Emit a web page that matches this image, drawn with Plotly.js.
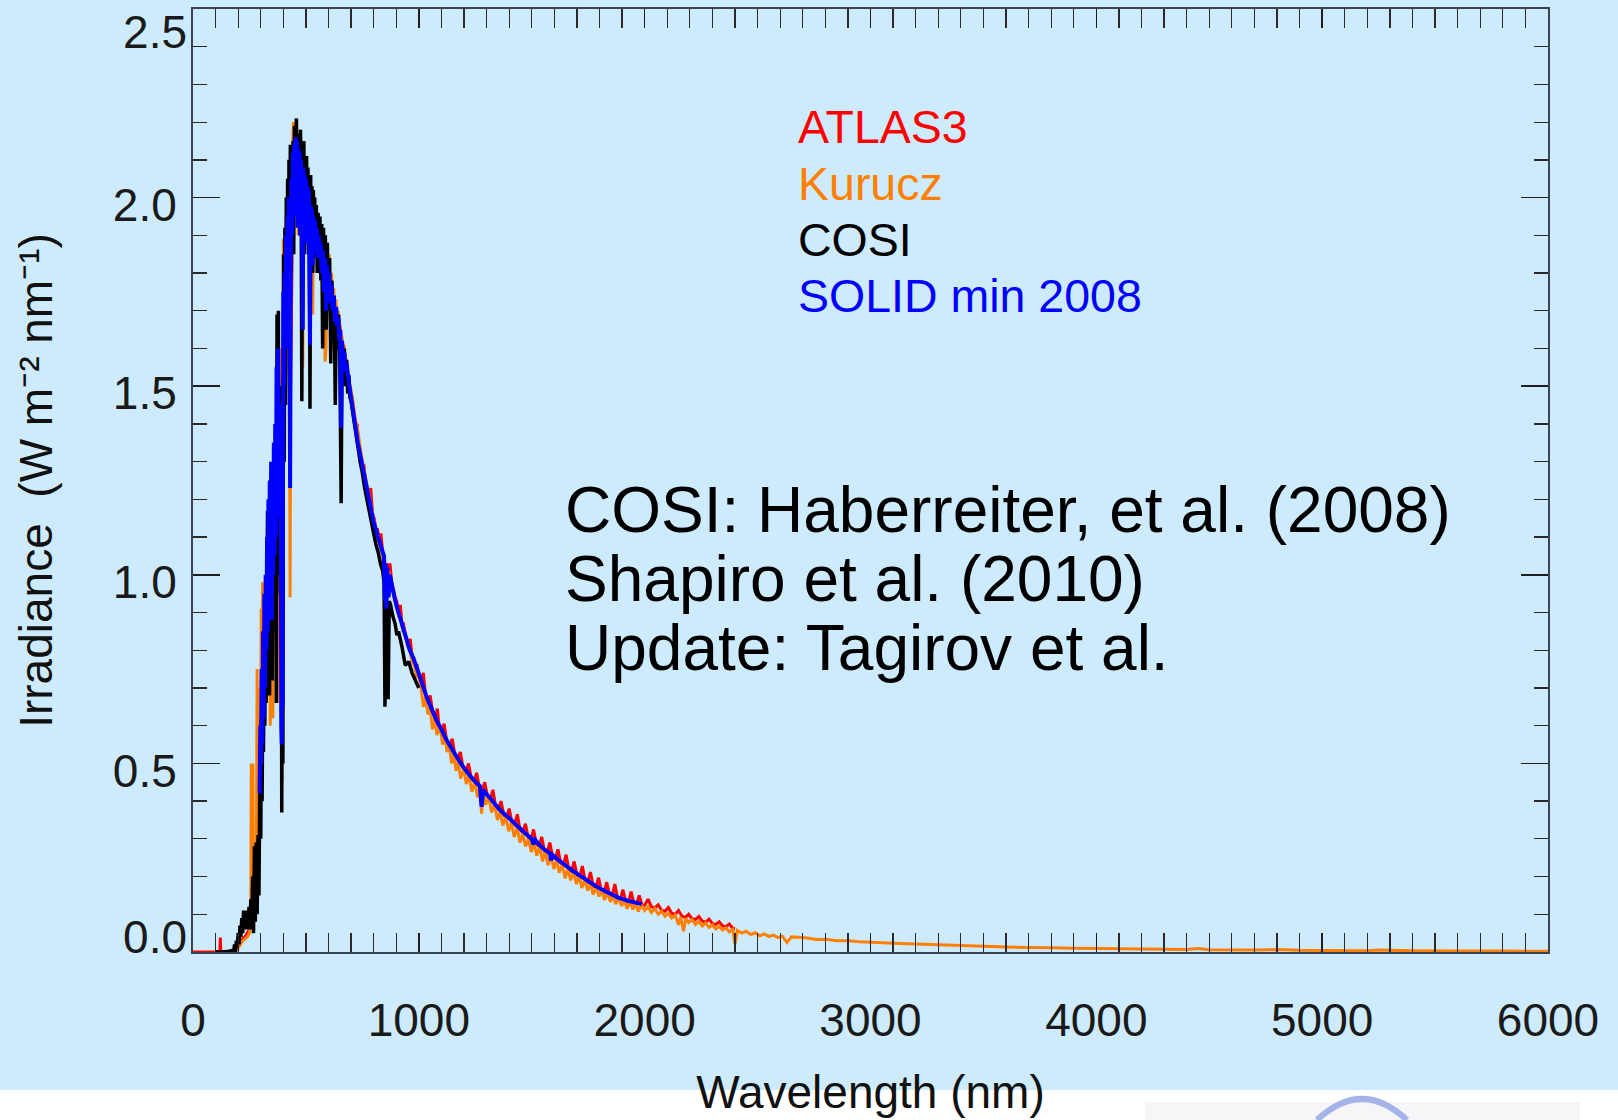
<!DOCTYPE html>
<html>
<head>
<meta charset="utf-8">
<script src="https://cdn.plot.ly/plotly-3.0.1.min.js"></script>
<style>
  html, body { margin: 0; padding: 0; background: #ffffff; }
  #chart { width: 1618px; height: 1120px; }
</style>
</head>
<body>
<div id="chart"></div>
<script>
// ---------------- data: [wavelength nm, irradiance W m-2 nm-1] ----------------
const atlas3Points = [
  [0,0],[20,0],[40,0],[60,0],[80,0],[100,0],[115,0.001],[119,0.004],[121,0.038],[123,0.003],
  [130,0.001],[150,0.001],[170,0.002],[190,0.006],[210,0.025],[220,0.035],[230,0.04],[240,0.05],[250,0.06],[260,0.12],
  [270,0.22],[280,0.15],[290,0.45],[300,0.50],[310,0.70],[320,0.80],[330,0.95],[340,0.95],[350,1.00],[360,1.05],
  [370,1.15],[380,1.15],[390,1.10],[393,0.45],[400,1.55],[410,1.70],[420,1.75],[430,1.40],[440,1.90],[450,2.05],
  [460,2.05],[470,2.02],[480,2.00],[486,1.70],[490,2.00],[500,1.95],[510,1.90],[520,1.85],[530,1.87],[540,1.90],
  [550,1.88],[560,1.86],[570,1.84],[580,1.82],[590,1.78],[600,1.78],[610,1.76],[620,1.73],[630,1.71],[640,1.69],
  [650,1.66],[660,1.62],[670,1.59],[680,1.56],[690,1.51],[700,1.47],[705,1.47],[712,1.43],[720,1.39],[727,1.40],
  [735,1.33],[742,1.32],[750,1.29],[757,1.29],[765,1.24],[772,1.23],[780,1.20],[787,1.23],[795,1.16],[802,1.15],
  [810,1.12],[817,1.12],[825,1.09],[832,1.11],[840,1.06],[847,1.05],[854,1.00],[858,1.03],[865,1.00],[872,1.03],
  [880,0.98],[888,0.96],[895,0.94],[902,0.93],[910,0.90],[918,0.92],[925,0.87],[932,0.87],[940,0.84],[947,0.83],
  [955,0.81],[962,0.83],[970,0.785],[977,0.78],[985,0.76],[992,0.76],[1000,0.73],[1010,0.716],[1020,0.74],[1030,0.68],
  [1042,0.665],[1050,0.68],[1062,0.634],[1072,0.62],[1082,0.645],[1090,0.597],[1100,0.586],[1112,0.605],[1124,0.557],[1136,0.545],
  [1148,0.565],[1160,0.521],[1172,0.51],[1184,0.53],[1196,0.487],[1208,0.478],[1220,0.50],[1232,0.461],[1244,0.452],[1256,0.475],
  [1268,0.436],[1280,0.428],[1292,0.45],[1304,0.412],[1316,0.404],[1328,0.43],[1340,0.386],[1352,0.378],[1364,0.40],[1376,0.363],
  [1388,0.357],[1400,0.38],[1412,0.344],[1424,0.338],[1436,0.365],[1448,0.324],[1460,0.317],[1472,0.34],[1484,0.304],[1496,0.298],
  [1508,0.325],[1520,0.286],[1532,0.28],[1544,0.305],[1556,0.268],[1568,0.262],[1580,0.29],[1592,0.253],[1604,0.247],[1616,0.272],
  [1628,0.236],[1640,0.23],[1652,0.258],[1664,0.219],[1676,0.214],[1688,0.24],[1700,0.204],[1712,0.199],[1724,0.228],[1736,0.19],
  [1748,0.185],[1760,0.212],[1772,0.175],[1784,0.171],[1796,0.197],[1808,0.163],[1820,0.159],[1832,0.185],[1844,0.153],[1856,0.148],
  [1868,0.18],[1880,0.142],[1892,0.139],[1904,0.165],[1916,0.134],[1928,0.132],[1940,0.16],[1952,0.129],[1964,0.127],[1976,0.15],
  [1988,0.124],[2000,0.124],[2015,0.14],[2030,0.12],[2045,0.117],[2060,0.125],[2075,0.11],[2090,0.108],[2105,0.118],[2120,0.102],
  [2135,0.10],[2150,0.11],[2165,0.095],[2180,0.092],[2195,0.10],[2210,0.088],[2225,0.086],[2240,0.094],[2255,0.082],[2270,0.079],
  [2285,0.087],[2300,0.075],[2315,0.073],[2330,0.08],[2345,0.069],[2360,0.067],[2375,0.074],[2390,0.063],[2400,0.062]
];

const kuruczPoints = [
  [150,0],[170,0],[190,0.005],[200,0.01],[210,0.02],[220,0.03],[230,0.035],[240,0.04],[250,0.05],[256,0.08],
  [258,0.50],[261,0.32],[265,0.50],[268,0.20],[272,0.25],[276,0.15],[280,0.12],[284,0.75],[287,0.40],[290,0.70],
  [293,0.50],[296,0.65],[299,0.45],[302,0.91],[305,0.60],[308,0.98],[311,0.70],[314,0.90],[317,0.75],[320,1.00],
  [323,0.80],[326,1.05],[329,0.85],[332,1.10],[335,0.90],[338,1.10],[342,0.60],[345,1.15],[348,0.80],[351,1.18],
  [354,0.62],[357,1.20],[360,0.95],[363,1.25],[366,0.90],[369,1.30],[372,1.10],[375,0.66],[378,1.45],[381,1.20],
  [384,1.55],[387,1.10],[390,1.60],[393,0.45],[396,1.40],[398,0.55],[400,1.89],[403,1.60],[406,1.85],[409,1.55],
  [412,1.95],[415,1.75],[418,2.00],[421,1.80],[424,2.05],[427,1.50],[430,0.94],[433,1.80],[436,2.10],[439,1.95],
  [442,2.15],[445,2.20],[448,2.05],[451,2.17],[454,2.00],[457,2.14],[460,1.95],[463,2.12],[466,1.90],[469,2.15],
  [472,1.95],[475,2.18],[478,2.05],[482,1.70],[486,1.55],[490,2.10],[494,1.95],[498,2.08],[502,1.90],[506,2.06],
  [510,1.95],[514,2.03],[518,1.55],[522,2.00],[526,1.85],[530,1.69],[534,1.98],[538,1.88],[542,1.96],[546,1.85],
  [550,1.94],[555,1.88],[560,1.93],[565,1.85],[570,1.92],[575,1.80],[580,1.90],[585,1.565],[589,1.60],[593,1.88],
  [598,1.80],[603,1.85],[608,1.75],[613,1.80],[618,1.72],[623,1.76],[628,1.70],[633,1.73],[638,1.68],[643,1.70],
  [648,1.64],[652,1.66],[656,1.35],[660,1.63],[665,1.58],[670,1.61],[675,1.55],[680,1.57],[690,1.52],[700,1.49],
  [710,1.45],[720,1.41],[730,1.38],[740,1.34],[750,1.30],[760,1.27],[770,1.24],[780,1.21],[790,1.18],[800,1.15],
  [810,1.12],[820,1.09],[830,1.07],[840,1.05],[850,0.98],[855,1.03],[860,0.97],[866,1.01],[872,0.99],[880,0.97],
  [890,0.94],[900,0.92],[910,0.89],[920,0.88],[930,0.85],[940,0.84],[950,0.81],[960,0.80],[970,0.77],[980,0.76],
  [990,0.73],[1000,0.73],[1010,0.70],[1020,0.65],[1030,0.675],[1040,0.63],[1050,0.65],[1060,0.59],[1070,0.62],[1080,0.575],
  [1094,0.60],[1105,0.55],[1115,0.575],[1125,0.53],[1135,0.55],[1145,0.50],[1155,0.525],[1165,0.48],[1175,0.505],[1185,0.46],
  [1200,0.485],[1210,0.445],[1222,0.468],[1235,0.425],[1248,0.452],[1260,0.41],[1270,0.435],[1278,0.367],[1285,0.425],[1295,0.39],
  [1310,0.41],[1322,0.37],[1335,0.392],[1348,0.35],[1360,0.372],[1372,0.335],[1385,0.36],[1398,0.32],[1410,0.345],[1422,0.305],
  [1435,0.33],[1448,0.29],[1460,0.315],[1472,0.28],[1485,0.30],[1498,0.265],[1510,0.29],[1522,0.255],[1535,0.28],[1548,0.24],
  [1560,0.268],[1572,0.23],[1585,0.255],[1598,0.22],[1610,0.245],[1622,0.21],[1635,0.232],[1648,0.195],[1660,0.222],[1672,0.19],
  [1685,0.212],[1698,0.18],[1710,0.202],[1722,0.17],[1735,0.192],[1748,0.163],[1760,0.182],[1772,0.152],[1785,0.173],[1798,0.147],
  [1810,0.165],[1822,0.138],[1835,0.158],[1848,0.133],[1860,0.15],[1872,0.127],[1885,0.143],[1898,0.122],[1910,0.137],[1922,0.115],
  [1935,0.132],[1948,0.113],[1960,0.129],[1972,0.107],[1985,0.125],[2000,0.11],[2015,0.12],[2030,0.105],[2045,0.115],[2060,0.10],
  [2075,0.108],[2090,0.095],[2105,0.103],[2120,0.09],[2135,0.098],[2150,0.072],[2160,0.093],[2172,0.055],[2182,0.089],[2195,0.078],
  [2210,0.086],[2225,0.073],[2240,0.081],[2255,0.069],[2270,0.077],[2285,0.065],[2300,0.072],[2315,0.061],[2330,0.068],[2345,0.058],
  [2360,0.064],[2375,0.053],[2390,0.06],[2400,0.02],[2410,0.057],[2430,0.05],[2450,0.055],[2470,0.046],[2490,0.051],[2510,0.043],
  [2530,0.048],[2550,0.041],[2570,0.045],[2590,0.038],[2610,0.042],[2630,0.025],[2650,0.040],[2680,0.039],[2720,0.037],[2760,0.033],
  [2800,0.034],[2850,0.03],[2900,0.03],[2950,0.027],[3000,0.026],[3100,0.023],[3200,0.021],[3300,0.019],[3400,0.017],[3500,0.015],
  [3600,0.0135],[3700,0.012],[3800,0.011],[3900,0.010],[4000,0.0092],[4200,0.0078],[4400,0.0066],[4450,0.009],[4500,0.0058],[4700,0.005],
  [4800,0.0065],[4900,0.0044],[5000,0.0040],[5200,0.0035],[5250,0.005],[5400,0.003],[5600,0.0027],[5800,0.0024],[6000,0.0021]
];

const cosiPoints = [
  [100,0],[120,0],[140,0.001],[160,0.002],[175,0.004],[180,0],[184,0.02],[188,0],[192,0.03],[196,0.01],
  [200,0.05],[204,0.02],[208,0.07],[212,0.04],[216,0.09],[220,0.05],[224,0.11],[228,0.06],[232,0.10],[236,0.07],
  [240,0.11],[244,0.06],[248,0.12],[252,0.07],[256,0.14],[260,0.06],[264,0.20],[268,0.05],[272,0.28],[276,0.08],
  [280,0.29],[284,0.10],[288,0.31],[292,0.15],[296,0.45],[300,0.30],[303,0.62],[306,0.40],[309,0.70],[312,0.53],
  [315,0.80],[318,0.60],[321,0.85],[324,0.66],[327,0.95],[330,1.17],[333,0.70],[336,1.05],[339,0.68],[342,1.10],
  [345,0.80],[348,1.15],[351,0.72],[354,1.20],[357,0.85],[360,1.25],[363,0.90],[366,1.30],[369,0.66],[372,1.69],
  [375,1.00],[378,1.70],[381,1.10],[384,1.50],[387,0.95],[390,1.40],[393,0.37],[396,1.30],[398,0.50],[401,1.85],
  [404,1.30],[407,1.92],[410,1.45],[413,2.00],[416,1.70],[419,2.05],[422,1.75],[425,2.10],[428,1.65],[431,2.14],
  [434,1.80],[437,2.10],[440,1.90],[443,2.15],[446,1.85],[449,2.19],[452,1.95],[455,2.17],[458,2.21],[461,1.98],
  [464,2.15],[467,1.95],[470,2.17],[473,1.90],[476,2.18],[479,2.00],[482,1.46],[485,2.10],[488,1.90],[491,2.15],
  [494,1.85],[497,2.10],[500,1.95],[503,2.11],[506,1.90],[509,2.08],[512,1.85],[515,2.05],[518,1.44],[521,2.06],
  [524,1.82],[527,2.03],[530,1.80],[533,2.02],[536,1.85],[539,2.00],[542,1.84],[546,1.98],[550,1.80],[554,1.96],
  [558,1.82],[562,1.95],[566,1.78],[570,1.93],[574,1.60],[578,1.92],[582,1.70],[586,1.90],[590,1.65],[595,1.88],
  [600,1.70],[605,1.84],[610,1.56],[615,1.78],[620,1.65],[625,1.74],[630,1.45],[635,1.71],[640,1.60],[645,1.69],
  [650,1.58],[656,1.19],[660,1.62],[665,1.55],[670,1.60],[675,1.50],[680,1.57],[685,1.48],[690,1.53],[695,1.47],
  [700,1.46],[710,1.42],[720,1.38],[730,1.34],[740,1.30],[750,1.27],[760,1.23],[770,1.20],[780,1.17],[790,1.14],
  [800,1.11],[810,1.08],[820,1.06],[830,1.03],[840,1.01],[846,0.98],[850,0.65],[857,0.94],[864,0.67],[869,0.93],
  [875,0.92],[885,0.89],[895,0.87],[903,0.84],[910,0.85],[925,0.81],[940,0.76],[955,0.77],[970,0.74],[985,0.72],
  [1000,0.70]
];

const solidPoints = [
  [295,0.42],[298,0.60],[301,0.50],[304,0.75],[307,0.55],[310,0.85],[313,0.62],[316,0.95],[319,0.70],[322,1.00],
  [325,0.80],[328,1.10],[331,0.85],[334,1.20],[337,0.90],[340,1.25],[343,0.95],[346,1.30],[349,0.88],[352,1.28],
  [355,1.00],[358,1.35],[361,1.05],[364,1.40],[367,1.10],[370,1.55],[373,1.20],[376,1.60],[379,1.30],[382,1.40],
  [385,1.15],[388,1.45],[391,0.60],[393,0.55],[395,1.20],[397,0.65],[400,1.75],[403,1.50],[406,1.80],[409,1.60],
  [412,1.90],[415,1.70],[418,1.95],[421,1.80],[424,2.00],[427,1.70],[430,1.23],[433,1.85],[436,2.05],[439,1.90],
  [442,2.12],[445,1.95],[448,2.14],[451,1.98],[454,2.16],[457,2.05],[460,2.15],[463,1.92],[466,2.13],[469,1.95],
  [472,2.12],[475,1.90],[478,2.10],[481,1.95],[484,1.85],[486,1.65],[489,2.08],[492,1.90],[495,2.06],[498,1.92],
  [501,2.05],[504,1.88],[507,2.03],[510,1.90],[513,2.02],[516,1.75],[518,1.61],[521,1.98],[524,1.85],[527,1.97],
  [530,1.82],[533,1.95],[536,1.88],[540,1.94],[544,1.86],[548,1.92],[552,1.84],[556,1.90],[560,1.85],[565,1.88],
  [570,1.80],[575,1.86],[580,1.75],[585,1.84],[589,1.70],[593,1.82],[598,1.76],[603,1.80],[608,1.72],[613,1.77],
  [618,1.70],[623,1.74],[628,1.67],[633,1.71],[638,1.66],[643,1.68],[648,1.62],[652,1.65],[656,1.39],[660,1.62],
  [665,1.57],[670,1.59],[675,1.54],[680,1.56],[690,1.51],[700,1.47],[710,1.43],[720,1.39],[730,1.35],[740,1.32],
  [750,1.29],[760,1.26],[770,1.23],[780,1.20],[790,1.17],[800,1.14],[815,1.11],[830,1.08],[845,1.05],[850,0.93],
  [853,1.03],[856,0.91],[860,1.02],[866,0.94],[872,1.00],[885,0.96],[900,0.92],[915,0.89],[930,0.86],[945,0.83],
  [960,0.80],[975,0.78],[990,0.755],[1010,0.72],[1035,0.675],[1060,0.64],[1080,0.612],[1100,0.59],[1120,0.565],[1140,0.545],
  [1160,0.525],[1180,0.505],[1200,0.488],[1220,0.472],[1240,0.458],[1260,0.445],[1270,0.44],[1278,0.385],[1285,0.43],[1300,0.418],
  [1320,0.405],[1340,0.39],[1360,0.376],[1380,0.365],[1400,0.355],[1420,0.343],[1440,0.332],[1460,0.321],[1480,0.31],[1500,0.30],
  [1507,0.285],[1515,0.297],[1540,0.28],[1560,0.27],[1581,0.262],[1585,0.243],[1592,0.257],[1620,0.243],[1640,0.234],[1660,0.225],
  [1680,0.216],[1700,0.208],[1720,0.20],[1740,0.192],[1760,0.184],[1780,0.176],[1800,0.169],[1820,0.163],[1840,0.157],[1860,0.151],
  [1880,0.145],[1900,0.141],[1920,0.137],[1940,0.134],[1960,0.131],[1987,0.127]
];

const seriesNames  = ['ATLAS3', 'Kurucz', 'COSI', 'SOLID min 2008'];
const seriesColors = ['#ff0000', '#ff8000', '#000000', '#0000ff'];
const noteLines = ['COSI: Haberreiter, et al. (2008)', 'Shapiro et al. (2010)', 'Update: Tagirov et al.'];
const xTickVals = [0, 1000, 2000, 3000, 4000, 5000, 6000];
const yTickValsMid = [0.5, 1.0, 1.5, 2.0];
const yTickValTop = [2.5];
const yTickValBottom = [0.0];
const xTitle = 'Wavelength (nm)';
const yTitle = 'Irradiance\u00a0\u00a0(W m\u207b\u00b2 nm\u207b\u00b9)';

// ---------------- build ----------------
const FONT = 'Liberation Sans, Arial, Helvetica, sans-serif';
const seriesPts = [atlas3Points, kuruczPoints, cosiPoints, solidPoints];
const widths = [3, 3, 3.5, 4];
// drawing order red, orange (main y), black (overlay y2), blue (overlay y3); all axes share the same range
const traceAxes = ['y', 'y', 'y2', 'y3'];

const traces = seriesPts.map((pts, i) => ({
  type: 'scatter', mode: 'lines', name: seriesNames[i],
  x: pts.map(p => p[0]), y: pts.map(p => p[1]),
  xaxis: 'x', yaxis: traceAxes[i],
  line: { color: seriesColors[i], width: widths[i], simplify: false },
  hoverinfo: 'skip', showlegend: false
}));

const labelY = [2.187, 2.036, 1.887, 1.739];
const noteY = [1.171, 0.988, 0.806];
const annotations = [];
seriesNames.forEach((n, i) => annotations.push({
  x: 2672, y: labelY[i], xref: 'x', yref: 'y', text: n, showarrow: false,
  xanchor: 'left', yanchor: 'middle', font: { family: FONT, size: 46.5, color: seriesColors[i] }
}));
noteLines.forEach((t, i) => annotations.push({
  x: 1639, y: noteY[i], xref: 'x', yref: 'y', text: t, showarrow: false,
  xanchor: 'left', yanchor: 'middle', font: { family: FONT, size: 64, color: '#000000' }
}));

const tickFont = { family: FONT, size: 46, color: '#1a1a1a' };
const yLabelAxis = (vals, shift) => ({
  overlaying: 'y', anchor: 'x', side: 'left', range: [0, 2.5],
  tickmode: 'array', tickvals: vals, tickformat: '.1f',
  ticks: 'inside', ticklen: 27, tickwidth: 1.5, tickcolor: '#1e1e1e', mirror: 'allticks',
  showline: false, showgrid: false, zeroline: false,
  tickfont: tickFont, ticklabelstandoff: 5, ticklabelshift: shift, ticklabeloverflow: 'allow'
});

const layout = {
  width: 1618, height: 1120,
  margin: { l: 193, r: 70, t: 9, b: 168, pad: 0 },
  paper_bgcolor: '#cdebfc',
  plot_bgcolor: 'rgba(0,0,0,0)',
  font: { family: FONT, color: '#000000' },
  xaxis: {
    range: [0, 6000], tickmode: 'array', tickvals: xTickVals, ticklen: 19,
    ticks: 'inside', tickcolor: '#1e1e1e', tickwidth: 1.5,
    showline: true, linecolor: '#3a4450', linewidth: 2, mirror: 'allticks',
    showgrid: false, zeroline: false, tickfont: tickFont,
    minor: { ticks: 'inside', tickmode: 'linear', dtick: 100, tick0: 0, ticklen: 9, tickwidth: 1.3, tickcolor: '#2a2a2a', showgrid: false },
    ticklabelstandoff: 27, ticklabeloverflow: 'allow',
    title: { text: xTitle, font: { family: FONT, size: 46, color: '#111111' }, standoff: 31 }
  },
  yaxis: {
    range: [0, 2.5], tickmode: 'array', tickvals: yTickValsMid, tickformat: '.1f', ticklen: 27,
    ticks: 'inside', tickcolor: '#1e1e1e', tickwidth: 1.5,
    showline: true, linecolor: '#3a4450', linewidth: 2, mirror: 'allticks',
    showgrid: false, zeroline: false, tickfont: tickFont,
    minor: { ticks: 'inside', tickmode: 'linear', dtick: 0.1, tick0: 0, ticklen: 14, tickwidth: 1.3, tickcolor: '#2a2a2a', showgrid: false },
    ticklabelstandoff: 5, ticklabelshift: 7, ticklabeloverflow: 'allow',
    title: { text: yTitle, font: { family: FONT, size: 46, color: '#111111' }, standoff: 46 }
  },
  yaxis2: yLabelAxis(yTickValTop, 23),
  yaxis3: yLabelAxis(yTickValBottom, -15),
  annotations: annotations,
  shapes: [
    { type: 'rect', xref: 'paper', yref: 'paper', x0: -0.2, x1: 1.1, y0: -0.25, y1: -0.14634,
      fillcolor: '#ffffff', line: { width: 0 }, layer: 'below' },
    { type: 'rect', xref: 'paper', yref: 'paper', x0: 0.70258, x1: 1.02362, y0: -0.2, y1: -0.15907,
      fillcolor: '#f6f6f9', line: { width: 0 }, layer: 'below' },
    { type: 'path', xref: 'paper', yref: 'paper', path: 'M 0.8295,-0.17815 Q 0.8627,-0.1336 0.8959,-0.17815',
      line: { color: 'rgb(165,180,232)', width: 6 }, layer: 'below' }
  ]
};

Plotly.newPlot('chart', traces, layout, { staticPlot: true, displayModeBar: false });
</script>
</body>
</html>
